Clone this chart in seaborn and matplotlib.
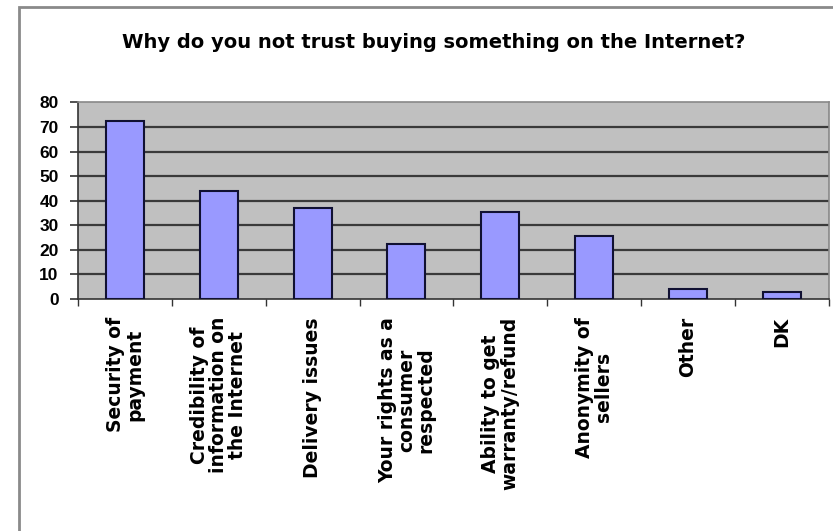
import matplotlib
matplotlib.use("Agg")
import matplotlib.pyplot as plt
import seaborn as sns
import pandas as pd
import numpy as np
from matplotlib.patches import Rectangle

categories = ["Security of\npayment", "Credibility of\ninformation on\nthe Internet",
              "Delivery issues", "Your rights as a\nconsumer\nrespected",
              "Ability to get\nwarranty/refund", "Anonymity of\nsellers", "Other", "DK"]
values = [72.5, 44, 37, 22.5, 35.5, 25.5, 4, 3]
y_ticks = [0, 10, 20, 30, 40, 50, 60, 70, 80]
title = "Why do you not trust buying something on the Internet?"

sns.set_style("white")
plt.rcParams['font.family'] = ['Liberation Sans', 'DejaVu Sans']
plt.rcParams['text.color'] = 'black'
plt.rcParams['xtick.color'] = 'black'
plt.rcParams['ytick.color'] = 'black'

fig = plt.figure(figsize=(8.33, 5.31), dpi=100)
ax = fig.add_axes([0.0936, 0.437, 0.995 - 0.0936, 0.807 - 0.437])

df = pd.DataFrame({"cat": categories, "val": values})
sns.barplot(data=df, x="cat", y="val", ax=ax, color="#9999ff", saturation=1,
            width=0.405, edgecolor="#111133", linewidth=1.5, zorder=3)

ax.set_facecolor("#c0c0c0")
ax.set_xlim(-0.5, len(categories) - 0.5)
ax.set_ylim(0, 80)
ax.set_yticks(y_ticks)
ax.set_yticklabels([str(t) for t in y_ticks], fontsize=12.5, fontweight="bold",
                   family="Liberation Sans", color="black")
for t in y_ticks[1:-1]:
    ax.axhline(t, color="#3a3a3a", lw=1.6, zorder=1)

# x ticks at category boundaries, labels at centres
ax.set_xticks(np.arange(-0.5, len(categories), 1.0))
ax.set_xticklabels([])
ax.set_xticks(np.arange(len(categories)), minor=True)
ax.set_xticklabels(categories, minor=True, rotation=90, fontsize=13.5,
                   fontweight="bold", family="DejaVu Sans", va="top",
                   ha="center", multialignment="center", linespacing=1.0,
                   color="black")
ax.tick_params(axis="x", which="major", length=5, width=1, color="#333333",
               direction="out", bottom=True)
ax.tick_params(axis="x", which="minor", length=0, pad=13)
ax.tick_params(axis="y", length=6, width=1.2, color="#333333", direction="out",
               left=True, pad=8)
ax.set_xlabel("")
ax.set_ylabel("")

for side in ["left", "bottom"]:
    ax.spines[side].set_color("#333333")
    ax.spines[side].set_linewidth(1.2)
for side in ["top", "right"]:
    ax.spines[side].set_visible(True)
    ax.spines[side].set_color("#888888")
    ax.spines[side].set_linewidth(1.2)

fig.text(0.521, 1 - 42 / 531, title, ha="center", va="center", fontsize=14,
         fontweight="bold", family="DejaVu Sans", color="black")

fig.patches.append(Rectangle((19 / 833, -0.05), 1.2, 1 - 7 / 531 + 0.05,
                             transform=fig.transFigure, fill=False,
                             edgecolor="#8a8a8a", lw=2, zorder=0))

fig.savefig("out.png", dpi=100)
